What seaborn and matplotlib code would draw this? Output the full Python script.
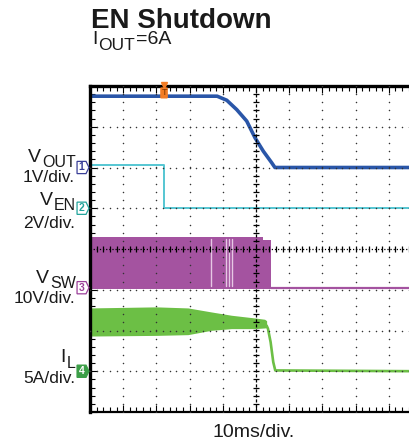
# EN Shutdown scope capture, redrawn with seaborn / matplotlib

import numpy as np
import pandas as pd
import seaborn as sns
import matplotlib
matplotlib.use("Agg")
import matplotlib.pyplot as plt
from matplotlib.patches import Polygon
from matplotlib.ticker import MultipleLocator


# ============================================
# DATA
# time in ms, 10 ms/div, screen spans -50..50
# ============================================

vout_t = [-50, -11.7, -8.8, -5.8, -2.8, -0.3, 2.2, 4.7, 5.7, 50]
vout_v = [1.75, 1.75, 1.65, 1.42, 1.14, 0.73, 0.40, 0.12, 0.0, 0.0]

ven_t = [-50, -27.7, -27.7, 50]
ven_v = [2.1, 2.1, 0.0, 0.0]

# switch node: switching envelope, then flat
vsw_t = [-50, 2.1, 2.1, 4.4]
vsw_hi = [12.4, 12.4, 11.7, 11.7]
vsw_lo = [-0.4, -0.4, -0.4, -0.4]
vsw_gaps = [-13.5, -8.9, -8.2, -7.2]
vsw_after_t = [4.4, 50]
vsw_after_v = [0.0, 0.0]

# inductor current: ripple envelope, then decay
il_t = [-50, -30, -20.5, -13.5, -7.4, -0.4, 2.6, 3.2]
il_hi = [7.77, 7.9, 7.77, 7.28, 6.87, 6.54, 6.38, 6.2]
il_lo = [4.32, 4.4, 4.49, 5.02, 5.23, 5.23, 5.31, 5.35]
il_after_t = [3.2, 3.6, 4.4, 5.2, 5.8, 50]
il_after_v = [5.6, 5.23, 3.58, 1.12, 0.1, 0.0]

trig_t = -27.7

# channel: (number, ground offset in div, units per div, colour)
channels = {
    "VOUT": (1, 2.0, 1.0, "#2a56a8"),
    "VEN": (2, 1.0, 2.0, "#55c6d2"),
    "VSW": (3, -0.95, 10.0, "#a453a0"),
    "IL": (4, -3.0, 5.0, "#6cbf45"),
}


def to_div(name, values):
    _, off, scale, _ = channels[name]
    return off + np.asarray(values, dtype=float) / scale


# ============================================
# FIGURE
# ============================================

sns.set_style("white")
plt.rcParams["font.family"] = ["Liberation Sans", "DejaVu Sans"]

W, H = 410, 445
fig = plt.figure(figsize=(W / 100, H / 100), dpi=100)


def px(x, y):
    return x / W, 1 - y / H


# plot area: left 90px, top 86px, bottom 412px, 33.2 px/div in x
ax = fig.add_axes([90 / W, 1 - 412 / H, 332 / W, 326 / H])
ax.set_xlim(-50, 50)
ax.set_ylim(-4, 4)

# traces
vsw_col = channels["VSW"][3]
ax.fill_between(vsw_t, to_div("VSW", vsw_lo), to_div("VSW", vsw_hi),
                color=vsw_col, lw=0, zorder=2)
for g in vsw_gaps:
    ax.plot([g, g], to_div("VSW", [0.3, 12.0]), color="#e6c8e4", lw=1.0, zorder=2)
sns.lineplot(x=vsw_after_t, y=to_div("VSW", vsw_after_v), ax=ax,
             color=vsw_col, lw=1.6, estimator=None, sort=False, zorder=2)

il_col = channels["IL"][3]
ax.fill_between(il_t, to_div("IL", il_lo), to_div("IL", il_hi),
                color=il_col, lw=0, zorder=2)
sns.lineplot(x=il_after_t, y=to_div("IL", il_after_v), ax=ax,
             color=il_col, lw=1.9, estimator=None, sort=False, zorder=2)

sns.lineplot(x=ven_t, y=to_div("VEN", ven_v), ax=ax,
             color=channels["VEN"][3], lw=1.4, estimator=None, sort=False, zorder=2)
sns.lineplot(x=vout_t, y=to_div("VOUT", vout_v), ax=ax,
             color=channels["VOUT"][3], lw=2.6, estimator=None, sort=False, zorder=2)

# graticule: dotted grid, ticked centre cross
minor_x = np.arange(-50, 50.01, 2)
minor_y = np.arange(-4, 4.01, 0.2)
for gx in [-40, -30, -20, -10, 10, 20, 30, 40]:
    ax.scatter(np.full_like(minor_y, gx), minor_y, s=1.2, color="#333333",
               lw=0, zorder=3)
for gy in [-3, -2, -1, 1, 2, 3]:
    ax.scatter(minor_x, np.full_like(minor_x, gy), s=1.2, color="#333333",
               lw=0, zorder=3)
ax.axvline(0, color="black", lw=0.9, ls=(0, (2.5, 1.5)), zorder=3)
ax.axhline(0, color="black", lw=0.9, ls=(0, (1, 1.5)), zorder=3)
ax.plot(np.zeros_like(minor_y), minor_y, ls="none", marker="_", ms=4,
        mew=0.9, color="black", zorder=3)
ax.plot(minor_x, np.zeros_like(minor_x), ls="none", marker="|", ms=4,
        mew=0.9, color="black", zorder=3)

# frame with inside ticks
ax.xaxis.set_major_locator(MultipleLocator(10))
ax.xaxis.set_minor_locator(MultipleLocator(2))
ax.yaxis.set_major_locator(MultipleLocator(1))
ax.yaxis.set_minor_locator(MultipleLocator(0.2))
ax.tick_params(which="both", direction="in", top=True, bottom=True, left=True,
               right=True, labelbottom=False, labelleft=False, color="black",
               width=0.8)
ax.tick_params(which="major", length=5)
ax.tick_params(which="minor", length=3.5)
for side, lw in [("left", 2.4), ("top", 2.4), ("bottom", 1.6), ("right", 2.0)]:
    ax.spines[side].set_color("black")
    ax.spines[side].set_linewidth(lw)

# trigger marker
orange = "#f27c25"
ax.plot(trig_t, 4.02, marker="v", ms=5, color=orange, clip_on=False, zorder=5)
ax.text(trig_t, 3.83, "T", ha="center", va="center", fontsize=6.5,
        color="#7a3300", zorder=5,
        bbox=dict(boxstyle="round,pad=0.12", fc=orange, ec="none"))

# channel markers left of the frame
marker_style = {
    1: ("white", "#3a3f98", "#3a3f98"),
    2: ("white", "#22a39b", "#22a39b"),
    3: ("white", "#9b3f99", "#9b3f99"),
    4: ("#3b9e47", "#3b9e47", "white"),
}
x0, x1, x2, hh = -53.9, -51.2, -50.3, 0.15
for name, (num, off, _, _) in channels.items():
    fc, ec, tc = marker_style[num]
    poly = Polygon([(x0, off - hh), (x1, off - hh), (x2, off), (x1, off + hh),
                    (x0, off + hh)], closed=True, fc=fc, ec=ec, lw=0.9,
                   clip_on=False, zorder=5)
    ax.add_patch(poly)
    ax.text((x0 + x1) / 2, off, str(num), ha="center", va="center",
            fontsize=7.5, fontweight="bold", color=tc, clip_on=False, zorder=6)


# ============================================
# TEXT
# ============================================

renderer = fig.canvas.get_renderer()


def put_parts(parts, x, y, ha="left"):
    # parts: (text, fontsize, baseline drop in px)
    texts = [fig.text(0, 0, s, fontsize=fs, va="baseline", color="#1a1a1a")
             for s, fs, _ in parts]
    widths = [t.get_window_extent(renderer).width for t in texts]
    cx = x - sum(widths) - 1 * (len(parts) - 1) if ha == "right" else x
    for t, w, (_, _, dy) in zip(texts, widths, parts):
        t.set_position(px(cx, y + dy))
        cx += w + 1


fig.text(*px(91, 28), "EN Shutdown", fontsize=20, fontweight="bold",
         va="baseline", color="#1a1a1a")
put_parts([("I", 14, 0), ("OUT", 12.5, 5), ("=6A", 14, 0)], 92, 44.5)

put_parts([("V", 14, 0), ("OUT", 11.5, 5)], 76, 162, ha="right")
fig.text(*px(75, 182), "1V/div.", fontsize=12.5, ha="right", va="baseline",
         color="#1a1a1a")
put_parts([("V", 14, 0), ("EN", 11.5, 5)], 76, 205, ha="right")
fig.text(*px(75, 228), "2V/div.", fontsize=12.5, ha="right", va="baseline",
         color="#1a1a1a")
put_parts([("V", 14, 0), ("SW", 11.5, 5)], 76, 283, ha="right")
fig.text(*px(75, 303), "10V/div.", fontsize=12.5, ha="right", va="baseline",
         color="#1a1a1a")
put_parts([("I", 14, 0), ("L", 11.5, 6)], 76, 362, ha="right")
fig.text(*px(75, 383), "5A/div.", fontsize=12.5, ha="right", va="baseline",
         color="#1a1a1a")

fig.text(*px(254, 437), "10ms/div.", fontsize=14, ha="center", va="baseline",
         color="#1a1a1a")

fig.savefig("out.png", dpi=100)
